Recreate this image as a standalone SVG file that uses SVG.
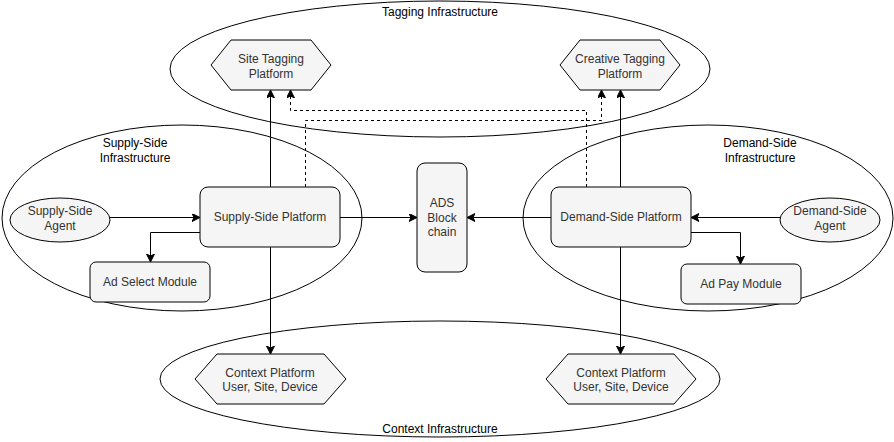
<svg xmlns="http://www.w3.org/2000/svg" width="894" height="442" viewBox="0 0 894 442">
<defs>
<marker id="arr" markerWidth="10" markerHeight="10" refX="8" refY="4" orient="auto" markerUnits="userSpaceOnUse">
<path d="M0,0 L8,4 L0,8 L2,4 z" fill="#000" stroke="#000" stroke-width="1"/>
</marker>
<style>
.bg{fill:#fff}
.inf{fill:none;stroke:#000;stroke-width:1}
.node{fill:#f5f5f5;stroke:#000;stroke-width:1}
.lbl{font-family:"Liberation Sans",Arial,sans-serif;font-size:12px;fill:#000;text-anchor:middle}
.t{font-family:"Liberation Sans",Arial,sans-serif;font-size:12px;fill:#333;text-anchor:middle}
.c{fill:none;stroke:#000;stroke-width:1;marker-end:url(#arr)}
.d{stroke-dasharray:3,3}
</style>
</defs>
<rect class="bg" x="0" y="0" width="894" height="442"/>
<g id="infrastructures">
<g id="tagging-infra"><ellipse class="inf" cx="440" cy="69" rx="270" ry="68"/><text class="lbl" x="440" y="16">Tagging Infrastructure</text></g>
<g id="supply-infra"><ellipse class="inf" cx="182" cy="218" rx="180" ry="93"/><text class="lbl" x="135" y="147">Supply-Side</text><text class="lbl" x="135" y="162">Infrastructure</text></g>
<g id="demand-infra"><ellipse class="inf" cx="708" cy="218" rx="185" ry="93"/><text class="lbl" x="760" y="147">Demand-Side</text><text class="lbl" x="760" y="162">Infrastructure</text></g>
<g id="context-infra"><ellipse class="inf" cx="440" cy="379" rx="280" ry="58"/><text class="lbl" x="440" y="433">Context Infrastructure</text></g>
</g>
<g id="site-tagging"><polygon class="node" points="211,65 231,40 311,40 331,65 311,90 231,90"/><text class="t" x="271" y="63">Site Tagging</text><text class="t" x="271" y="78">Platform</text></g>
<g id="creative-tagging"><polygon class="node" points="560,65 580,40 660,40 680,65 660,90 580,90"/><text class="t" x="620" y="63">Creative Tagging</text><text class="t" x="620" y="78">Platform</text></g>
<g id="supply-agent"><ellipse class="node" cx="60" cy="220" rx="50" ry="22"/><text class="t" x="60" y="215">Supply-Side</text><text class="t" x="60" y="230">Agent</text></g>
<g id="supply-platform"><rect class="node" x="200" y="187" width="140" height="60" rx="8"/><text class="t" x="270" y="221">Supply-Side Platform</text></g>
<g id="ad-select"><rect class="node" x="90" y="262" width="120" height="40" rx="6"/><text class="t" x="150" y="286">Ad Select Module</text></g>
<g id="ads-blockchain"><rect class="node" x="417" y="163" width="50" height="109" rx="8"/><text class="t" x="442" y="207">ADS</text><text class="t" x="442" y="222">Block</text><text class="t" x="442" y="236">chain</text></g>
<g id="demand-platform"><rect class="node" x="551" y="187" width="140" height="60" rx="8"/><text class="t" x="621" y="221">Demand-Side Platform</text></g>
<g id="demand-agent"><ellipse class="node" cx="830" cy="220" rx="50" ry="22"/><text class="t" x="830" y="215">Demand-Side</text><text class="t" x="830" y="230">Agent</text></g>
<g id="ad-pay"><rect class="node" x="681" y="264" width="120" height="40" rx="6"/><text class="t" x="741" y="288">Ad Pay Module</text></g>
<g id="context-left"><polygon class="node" points="195,379 217,354 324,354 346,379 324,404 217,404"/><text class="t" x="270" y="377">Context Platform</text><text class="t" x="270" y="391">User, Site, Device</text></g>
<g id="context-right"><polygon class="node" points="546,379 568,354 674,354 696,379 674,404 568,404"/><text class="t" x="621" y="377">Context Platform</text><text class="t" x="621" y="391">User, Site, Device</text></g>
<g id="connectors">
<path class="c" d="M270.5,187 L270.5,90"/>
<path class="c" d="M270.5,247 L270.5,354"/>
<path class="c" d="M620.5,187 L620.5,90"/>
<path class="c" d="M620.5,247 L620.5,354"/>
<path class="c d" d="M305.5,187 L305.5,120.5 L601.5,120.5 L601.5,90"/>
<path class="c d" d="M586.5,187 L586.5,110.5 L290.5,110.5 L290.5,90"/>
<path class="c" d="M110,217.5 L200,217.5"/>
<path class="c" d="M200,232.5 L150.5,232.5 L150.5,262"/>
<path class="c" d="M340,217.5 L417,217.5"/>
<path class="c" d="M551,217.5 L467,217.5"/>
<path class="c" d="M780,217.5 L691,217.5"/>
<path class="c" d="M691,232.5 L740.5,232.5 L740.5,264"/>
</g>
</svg>
